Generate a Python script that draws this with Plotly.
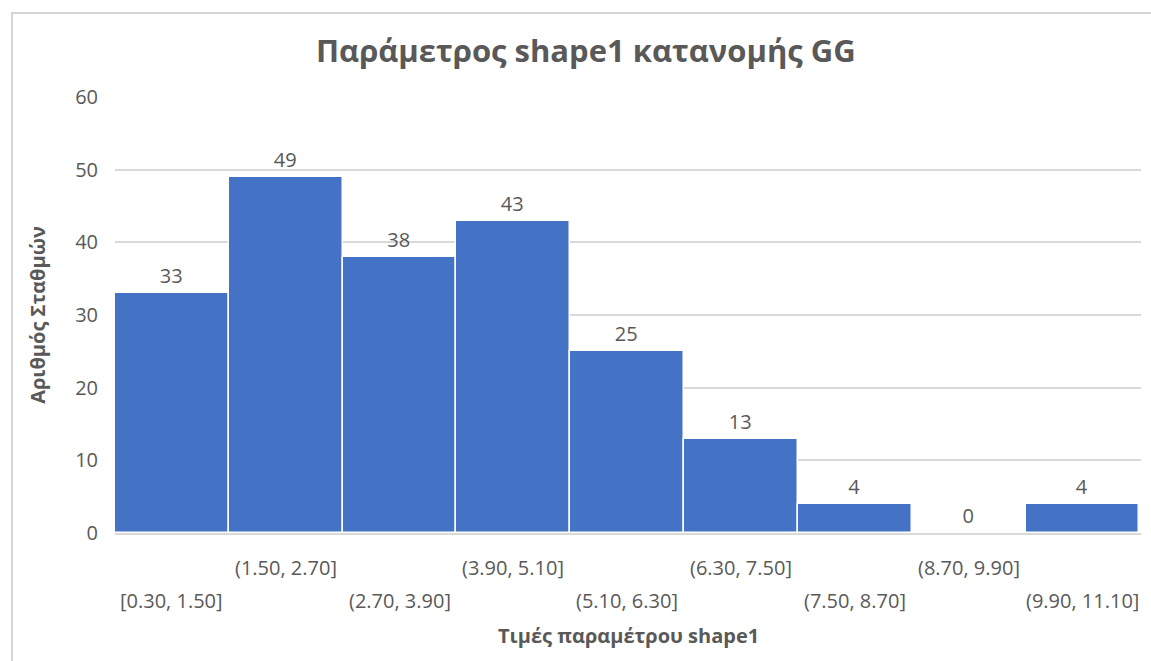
import plotly.graph_objects as go

# Histogram bins and station counts for the shape1 parameter
bins = ["[0.30, 1.50]", "(1.50, 2.70]", "(2.70, 3.90]", "(3.90, 5.10]",
        "(5.10, 6.30]", "(6.30, 7.50]", "(7.50, 8.70]", "(8.70, 9.90]",
        "(9.90, 11.10]"]
counts = [33, 49, 38, 43, 25, 13, 4, 0, 4]
y_ticks = [0, 10, 20, 30, 40, 50, 60]

FONT = "Open Sans"
GREY = "#595959"
LABEL_SIZE = 20

fig = go.Figure(go.Bar(
    x=bins,
    y=counts,
    marker=dict(color="#4472C4", line=dict(color="white", width=1.5)),
    text=[str(c) for c in counts],
    textposition="outside",
    textfont=dict(family=FONT, size=LABEL_SIZE, color=GREY),
    cliponaxis=False,
))

# staggered category labels below the axis
for i, b in enumerate(bins):
    fig.add_annotation(
        x=b, y=0, xref="x", yref="y",
        text=b, showarrow=False,
        yanchor="middle", yshift=-67 if i % 2 == 0 else -34,
        font=dict(family=FONT, size=LABEL_SIZE, color=GREY),
    )

# x-axis title, placed beneath the two rows of bin labels
fig.add_annotation(
    x=0.5, y=-0.236, xref="paper", yref="paper",
    text="<b>Τιμές παραμέτρου shape1</b>", showarrow=False,
    xanchor="center", yanchor="middle",
    font=dict(family=FONT, size=20, color=GREY),
)

# outer chart frame
fig.add_shape(type="rect", xref="paper", yref="paper",
              x0=-0.1004, x1=1.05, y0=-0.4, y1=1.1927,
              line=dict(color="#c8c8c8", width=1.5), layer="below")

fig.update_layout(
    width=1151, height=661,
    margin=dict(l=115, r=10, t=97, b=128),
    paper_bgcolor="white", plot_bgcolor="white",
    showlegend=False,
    bargap=0,
    title=dict(text="<b>Παράμετρος shape1 κατανομής GG</b>",
               x=0.509, xref="container", xanchor="center",
               y=1 - 51 / 661, yref="container", yanchor="middle",
               font=dict(family=FONT, size=31, color=GREY)),
    font=dict(family=FONT, color=GREY),
)

fig.update_xaxes(
    showticklabels=False, showgrid=False,
    showline=True, linecolor="#d9d9d9", linewidth=1.5,
)
fig.update_yaxes(
    range=[0, 60], tickvals=y_ticks,
    showgrid=True, gridcolor="#d9d9d9", gridwidth=1.5,
    zeroline=False, showline=False,
    tickfont=dict(family=FONT, size=LABEL_SIZE, color=GREY),
    ticklabelstandoff=16,
    title=dict(text="<b>Αριθμός Σταθμών</b>", standoff=24,
               font=dict(family=FONT, size=20, color=GREY)),
)

fig.write_html("out.html")
